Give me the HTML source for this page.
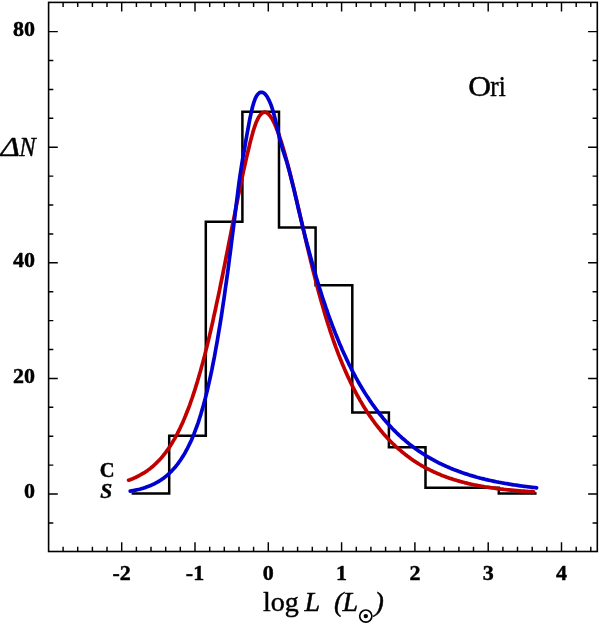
<!DOCTYPE html>
<html lang="en">
<head>
<meta charset="utf-8">
<title>Ori luminosity function</title>
<style>
html,body{margin:0;padding:0;background:#fff;}
body{width:600px;height:624px;overflow:hidden;}
svg{display:block;filter:blur(0.5px);}
text{font-family:"Liberation Serif","Times New Roman",serif;fill:#000;stroke:#000;stroke-width:0.45px;stroke-linejoin:round;}
.num text{font-size:22px;font-weight:bold;stroke-width:0.45px;}
</style>
</head>
<body>
<svg width="600" height="624" viewBox="0 0 600 624">
<rect x="0" y="0" width="600" height="624" fill="#fff"/>
<rect x="48.6" y="2.4" width="548.7" height="549.1" fill="none" stroke="#000" stroke-width="1.6"/>
<path d="M63.1,551.5 V546.8 M63.1,2.4 V7.1 M77.7,551.5 V546.8 M77.7,2.4 V7.1 M92.4,551.5 V546.8 M92.4,2.4 V7.1 M107.0,551.5 V546.8 M107.0,2.4 V7.1 M121.7,551.5 V542.3 M121.7,2.4 V11.6 M136.4,551.5 V546.8 M136.4,2.4 V7.1 M151.0,551.5 V546.8 M151.0,2.4 V7.1 M165.7,551.5 V546.8 M165.7,2.4 V7.1 M180.3,551.5 V546.8 M180.3,2.4 V7.1 M195.0,551.5 V542.3 M195.0,2.4 V11.6 M209.7,551.5 V546.8 M209.7,2.4 V7.1 M224.3,551.5 V546.8 M224.3,2.4 V7.1 M239.0,551.5 V546.8 M239.0,2.4 V7.1 M253.6,551.5 V546.8 M253.6,2.4 V7.1 M268.3,551.5 V542.3 M268.3,2.4 V11.6 M283.0,551.5 V546.8 M283.0,2.4 V7.1 M297.6,551.5 V546.8 M297.6,2.4 V7.1 M312.3,551.5 V546.8 M312.3,2.4 V7.1 M326.9,551.5 V546.8 M326.9,2.4 V7.1 M341.6,551.5 V542.3 M341.6,2.4 V11.6 M356.3,551.5 V546.8 M356.3,2.4 V7.1 M370.9,551.5 V546.8 M370.9,2.4 V7.1 M385.6,551.5 V546.8 M385.6,2.4 V7.1 M400.2,551.5 V546.8 M400.2,2.4 V7.1 M414.9,551.5 V542.3 M414.9,2.4 V11.6 M429.6,551.5 V546.8 M429.6,2.4 V7.1 M444.2,551.5 V546.8 M444.2,2.4 V7.1 M458.9,551.5 V546.8 M458.9,2.4 V7.1 M473.5,551.5 V546.8 M473.5,2.4 V7.1 M488.2,551.5 V542.3 M488.2,2.4 V11.6 M502.9,551.5 V546.8 M502.9,2.4 V7.1 M517.5,551.5 V546.8 M517.5,2.4 V7.1 M532.2,551.5 V546.8 M532.2,2.4 V7.1 M546.8,551.5 V546.8 M546.8,2.4 V7.1 M561.5,551.5 V542.3 M561.5,2.4 V11.6 M576.2,551.5 V546.8 M576.2,2.4 V7.1 M590.8,551.5 V546.8 M590.8,2.4 V7.1 M48.6,522.9 H53.3 M597.3,522.9 H592.6 M48.6,494.0 H57.8 M597.3,494.0 H588.1 M48.6,465.1 H53.3 M597.3,465.1 H592.6 M48.6,436.2 H53.3 M597.3,436.2 H592.6 M48.6,407.3 H53.3 M597.3,407.3 H592.6 M48.6,378.4 H57.8 M597.3,378.4 H588.1 M48.6,349.5 H53.3 M597.3,349.5 H592.6 M48.6,320.6 H53.3 M597.3,320.6 H592.6 M48.6,291.7 H53.3 M597.3,291.7 H592.6 M48.6,262.8 H57.8 M597.3,262.8 H588.1 M48.6,233.9 H53.3 M597.3,233.9 H592.6 M48.6,205.0 H53.3 M597.3,205.0 H592.6 M48.6,176.1 H53.3 M597.3,176.1 H592.6 M48.6,147.2 H57.8 M597.3,147.2 H588.1 M48.6,118.3 H53.3 M597.3,118.3 H592.6 M48.6,89.4 H53.3 M597.3,89.4 H592.6 M48.6,60.5 H53.3 M597.3,60.5 H592.6 M48.6,31.6 H57.8 M597.3,31.6 H588.1" fill="none" stroke="#000" stroke-width="1.45"/>
<path d="M131.6,493.6 L169.2,493.6 L169.2,435.8 L205.8,435.8 L205.8,221.7 L242.4,221.7 L242.4,111.8 L279.0,111.8 L279.0,227.5 L315.6,227.5 L315.6,285.3 L352.3,285.3 L352.3,412.6 L388.9,412.6 L388.9,447.3 L425.5,447.3 L425.5,487.8 L462.1,487.8 L462.1,487.8 L498.8,487.8 L498.8,493.6 L536.6,493.6" fill="none" stroke="#000" stroke-width="2.5" stroke-linejoin="miter" stroke-linecap="butt"/>
<path d="M128.6,480.2 L130.0,479.7 L131.3,479.2 L132.7,478.7 L134.0,478.1 L135.4,477.5 L136.7,476.8 L138.1,476.2 L139.4,475.5 L140.8,474.7 L142.1,473.9 L143.5,473.1 L144.9,472.3 L146.2,471.4 L147.6,470.4 L148.9,469.4 L150.3,468.4 L151.6,467.3 L153.0,466.2 L154.3,465.0 L155.7,463.7 L157.0,462.4 L158.4,461.0 L159.8,459.6 L161.1,458.1 L162.5,456.5 L163.8,454.8 L165.2,453.1 L166.5,451.3 L167.9,449.4 L169.2,447.4 L170.6,445.4 L171.9,443.2 L173.3,440.9 L174.7,438.6 L176.0,436.1 L177.4,433.6 L178.7,430.9 L180.1,428.1 L181.4,425.2 L182.8,422.2 L184.1,419.1 L185.5,415.8 L186.8,412.5 L188.2,409.0 L189.6,405.3 L190.9,401.5 L192.3,397.6 L193.6,393.6 L195.0,389.4 L196.3,385.1 L197.7,380.6 L199.0,376.0 L200.4,371.3 L201.7,366.4 L203.1,361.4 L204.5,356.2 L205.8,350.9 L207.2,345.4 L208.5,339.8 L209.9,334.1 L211.2,328.3 L212.6,322.3 L213.9,316.2 L215.3,310.0 L216.6,303.7 L218.0,297.3 L219.4,290.8 L220.7,284.2 L222.1,277.5 L223.4,270.8 L224.8,264.0 L226.1,257.2 L227.5,250.4 L228.8,243.5 L230.2,236.6 L231.5,229.8 L232.9,222.9 L234.3,216.1 L235.6,209.3 L237.0,202.6 L238.3,195.9 L239.7,189.3 L241.0,182.8 L242.4,176.4 L243.7,170.2 L245.1,164.0 L246.4,158.0 L247.8,152.2 L249.2,146.5 L250.5,141.0 L251.9,135.9 L253.2,131.1 L254.6,126.8 L255.9,123.1 L257.3,119.9 L258.6,117.3 L260.0,115.2 L261.3,113.7 L262.7,112.7 L264.1,112.2 L265.4,112.2 L266.8,112.7 L268.1,113.7 L269.5,115.1 L270.8,116.9 L272.2,119.1 L273.5,121.6 L274.9,124.5 L276.2,127.7 L277.6,131.2 L279.0,135.0 L280.3,139.0 L281.7,143.2 L283.0,147.6 L284.4,152.2 L285.7,157.0 L287.1,161.9 L288.4,167.0 L289.8,172.2 L291.1,177.5 L292.5,183.0 L293.9,188.6 L295.2,194.3 L296.6,200.0 L297.9,205.8 L299.3,211.7 L300.6,217.6 L302.0,223.6 L303.3,229.5 L304.7,235.4 L306.0,241.2 L307.4,247.0 L308.8,252.8 L310.1,258.4 L311.5,264.0 L312.8,269.5 L314.2,274.8 L315.5,280.1 L316.9,285.3 L318.2,290.4 L319.6,295.4 L320.9,300.3 L322.3,305.1 L323.7,309.8 L325.0,314.4 L326.4,318.9 L327.7,323.2 L329.1,327.5 L330.4,331.6 L331.8,335.7 L333.1,339.6 L334.5,343.5 L335.8,347.2 L337.2,350.9 L338.5,354.4 L339.9,357.9 L341.3,361.3 L342.6,364.6 L344.0,367.8 L345.3,370.9 L346.7,373.9 L348.0,376.9 L349.4,379.8 L350.7,382.6 L352.1,385.4 L353.4,388.1 L354.8,390.7 L356.2,393.3 L357.5,395.8 L358.9,398.2 L360.2,400.6 L361.6,402.9 L362.9,405.2 L364.3,407.4 L365.6,409.6 L367.0,411.7 L368.3,413.7 L369.7,415.8 L371.1,417.7 L372.4,419.6 L373.8,421.5 L375.1,423.3 L376.5,425.1 L377.8,426.8 L379.2,428.5 L380.5,430.2 L381.9,431.8 L383.2,433.4 L384.6,435.0 L386.0,436.5 L387.3,437.9 L388.7,439.4 L390.0,440.8 L391.4,442.2 L392.7,443.5 L394.1,444.8 L395.4,446.1 L396.8,447.3 L398.1,448.5 L399.5,449.7 L400.9,450.9 L402.2,452.0 L403.6,453.1 L404.9,454.2 L406.3,455.3 L407.6,456.3 L409.0,457.3 L410.3,458.3 L411.7,459.2 L413.0,460.2 L414.4,461.1 L415.8,462.0 L417.1,462.8 L418.5,463.7 L419.8,464.5 L421.2,465.3 L422.5,466.1 L423.9,466.8 L425.2,467.6 L426.6,468.3 L427.9,469.0 L429.3,469.7 L430.7,470.4 L432.0,471.0 L433.4,471.7 L434.7,472.3 L436.1,472.9 L437.4,473.5 L438.8,474.1 L440.1,474.6 L441.5,475.2 L442.8,475.7 L444.2,476.2 L445.6,476.7 L446.9,477.2 L448.3,477.7 L449.6,478.2 L451.0,478.6 L452.3,479.1 L453.7,479.5 L455.0,479.9 L456.4,480.3 L457.7,480.7 L459.1,481.1 L460.5,481.5 L461.8,481.9 L463.2,482.2 L464.5,482.6 L465.9,482.9 L467.2,483.2 L468.6,483.6 L469.9,483.9 L471.3,484.2 L472.6,484.5 L474.0,484.8 L475.4,485.0 L476.7,485.3 L478.1,485.6 L479.4,485.8 L480.8,486.1 L482.1,486.3 L483.5,486.5 L484.8,486.8 L486.2,487.0 L487.5,487.2 L488.9,487.4 L490.3,487.6 L491.6,487.8 L493.0,488.0 L494.3,488.2 L495.7,488.4 L497.0,488.6 L498.4,488.7 L499.7,488.9 L501.1,489.1 L502.4,489.2 L503.8,489.4 L505.2,489.5 L506.5,489.7 L507.9,489.8 L509.2,489.9 L510.6,490.1 L511.9,490.2 L513.3,490.3 L514.6,490.4 L516.0,490.6 L517.3,490.7 L518.7,490.8 L520.1,490.9 L521.4,491.0 L522.8,491.1 L524.1,491.2 L525.5,491.3 L526.8,491.4 L528.2,491.5 L529.5,491.5 L530.9,491.6 L532.2,491.7 L533.6,491.8" fill="none" stroke="#c00000" stroke-width="3.7" stroke-linecap="round" stroke-linejoin="round"/>
<path d="M130.2,491.1 L131.6,490.9 L132.9,490.7 L134.3,490.4 L135.6,490.1 L137.0,489.8 L138.4,489.5 L139.7,489.2 L141.1,488.8 L142.4,488.4 L143.8,488.0 L145.2,487.6 L146.5,487.1 L147.9,486.6 L149.2,486.1 L150.6,485.5 L151.9,484.9 L153.3,484.3 L154.7,483.6 L156.0,482.9 L157.4,482.2 L158.7,481.4 L160.1,480.5 L161.5,479.6 L162.8,478.7 L164.2,477.7 L165.5,476.6 L166.9,475.5 L168.3,474.3 L169.6,473.0 L171.0,471.7 L172.3,470.3 L173.7,468.8 L175.1,467.3 L176.4,465.6 L177.8,463.9 L179.1,462.0 L180.5,460.1 L181.8,458.0 L183.2,455.9 L184.6,453.6 L185.9,451.2 L187.3,448.6 L188.6,446.0 L190.0,443.1 L191.4,440.2 L192.7,437.0 L194.1,433.7 L195.4,430.2 L196.8,426.5 L198.2,422.6 L199.5,418.5 L200.9,414.1 L202.2,409.5 L203.6,404.7 L205.0,399.6 L206.3,394.3 L207.7,388.7 L209.0,382.8 L210.4,376.6 L211.8,370.2 L213.1,363.4 L214.5,356.4 L215.8,349.0 L217.2,341.4 L218.5,333.4 L219.9,325.1 L221.3,316.6 L222.6,307.7 L224.0,298.5 L225.3,289.1 L226.7,279.3 L228.1,269.3 L229.4,259.1 L230.8,248.6 L232.1,237.9 L233.5,227.0 L234.9,216.0 L236.2,204.9 L237.6,194.1 L238.9,183.6 L240.3,173.7 L241.7,164.7 L243.0,156.9 L244.4,149.6 L245.7,141.6 L247.1,133.7 L248.5,126.2 L249.8,119.1 L251.2,112.6 L252.5,107.0 L253.9,102.3 L255.2,98.6 L256.6,95.9 L258.0,94.0 L259.3,92.8 L260.7,92.3 L262.0,92.3 L263.4,92.8 L264.8,93.8 L266.1,95.3 L267.5,97.3 L268.8,99.8 L270.2,102.9 L271.6,106.5 L272.9,110.8 L274.3,115.6 L275.6,121.0 L277.0,126.9 L278.4,133.1 L279.7,138.9 L281.1,144.1 L282.4,148.6 L283.8,152.8 L285.1,156.9 L286.5,161.3 L287.9,166.0 L289.2,170.9 L290.6,176.2 L291.9,181.6 L293.3,187.1 L294.7,192.8 L296.0,198.6 L297.4,204.4 L298.7,210.1 L300.1,215.9 L301.5,221.6 L302.8,227.1 L304.2,232.6 L305.5,238.0 L306.9,243.3 L308.3,248.5 L309.6,253.6 L311.0,258.6 L312.3,263.5 L313.7,268.4 L315.1,273.1 L316.4,277.7 L317.8,282.2 L319.1,286.7 L320.5,291.1 L321.8,295.3 L323.2,299.5 L324.6,303.6 L325.9,307.6 L327.3,311.5 L328.6,315.4 L330.0,319.1 L331.4,322.8 L332.7,326.4 L334.1,330.0 L335.4,333.4 L336.8,336.8 L338.2,340.1 L339.5,343.4 L340.9,346.5 L342.2,349.7 L343.6,352.7 L345.0,355.7 L346.3,358.6 L347.7,361.5 L349.0,364.3 L350.4,367.0 L351.7,369.7 L353.1,372.3 L354.5,374.9 L355.8,377.4 L357.2,379.9 L358.5,382.3 L359.9,384.7 L361.3,387.0 L362.6,389.2 L364.0,391.5 L365.3,393.6 L366.7,395.8 L368.1,397.8 L369.4,399.9 L370.8,401.9 L372.1,403.8 L373.5,405.7 L374.9,407.6 L376.2,409.4 L377.6,411.2 L378.9,413.0 L380.3,414.7 L381.7,416.4 L383.0,418.1 L384.4,419.7 L385.7,421.3 L387.1,422.8 L388.4,424.3 L389.8,425.8 L391.2,427.3 L392.5,428.7 L393.9,430.1 L395.2,431.4 L396.6,432.8 L398.0,434.1 L399.3,435.4 L400.7,436.6 L402.0,437.8 L403.4,439.0 L404.8,440.2 L406.1,441.4 L407.5,442.5 L408.8,443.6 L410.2,444.7 L411.6,445.7 L412.9,446.8 L414.3,447.8 L415.6,448.8 L417.0,449.8 L418.3,450.7 L419.7,451.6 L421.1,452.5 L422.4,453.4 L423.8,454.3 L425.1,455.2 L426.5,456.0 L427.9,456.8 L429.2,457.6 L430.6,458.4 L431.9,459.2 L433.3,459.9 L434.7,460.7 L436.0,461.4 L437.4,462.1 L438.7,462.8 L440.1,463.5 L441.5,464.1 L442.8,464.8 L444.2,465.4 L445.5,466.0 L446.9,466.6 L448.3,467.2 L449.6,467.8 L451.0,468.4 L452.3,468.9 L453.7,469.5 L455.0,470.0 L456.4,470.5 L457.8,471.0 L459.1,471.5 L460.5,472.0 L461.8,472.5 L463.2,473.0 L464.6,473.4 L465.9,473.9 L467.3,474.3 L468.6,474.8 L470.0,475.2 L471.4,475.6 L472.7,476.0 L474.1,476.4 L475.4,476.8 L476.8,477.2 L478.2,477.5 L479.5,477.9 L480.9,478.3 L482.2,478.6 L483.6,478.9 L485.0,479.3 L486.3,479.6 L487.7,479.9 L489.0,480.2 L490.4,480.5 L491.7,480.8 L493.1,481.1 L494.5,481.4 L495.8,481.7 L497.2,482.0 L498.5,482.2 L499.9,482.5 L501.3,482.7 L502.6,483.0 L504.0,483.2 L505.3,483.5 L506.7,483.7 L508.1,483.9 L509.4,484.2 L510.8,484.4 L512.1,484.6 L513.5,484.8 L514.9,485.0 L516.2,485.2 L517.6,485.4 L518.9,485.6 L520.3,485.8 L521.6,486.0 L523.0,486.2 L524.4,486.3 L525.7,486.5 L527.1,486.7 L528.4,486.8 L529.8,487.0 L531.2,487.2 L532.5,487.3 L533.9,487.5 L535.2,487.6 L536.6,487.8" fill="none" stroke="#0000d0" stroke-width="3.7" stroke-linecap="round" stroke-linejoin="round"/>
<g class="num"><text x="121.7" y="579.6" text-anchor="middle">-2</text><text x="195.0" y="579.6" text-anchor="middle">-1</text><text x="268.3" y="579.6" text-anchor="middle">0</text><text x="341.6" y="579.6" text-anchor="middle">1</text><text x="414.9" y="579.6" text-anchor="middle">2</text><text x="488.2" y="579.6" text-anchor="middle">3</text><text x="561.5" y="579.6" text-anchor="middle">4</text><text x="35" y="498.3" text-anchor="end">0</text><text x="35" y="382.7" text-anchor="end">20</text><text x="35" y="267.1" text-anchor="end">40</text><text x="35" y="35.9" text-anchor="end">80</text></g>
<text transform="translate(0.5,155.8) scale(1.18,1)" font-size="28" font-style="italic" stroke-width="1.2">Δ</text>
<text transform="translate(19.2,155.8) scale(0.88,1)" font-size="28" font-style="italic" stroke-width="1.2">N</text>
<text transform="translate(468.3,95.6) scale(1.05,1)" font-size="30" stroke-width="1.2">O</text>
<text transform="translate(490.3,95.6) scale(0.84,1)" font-size="30" stroke-width="1.3">ri</text>
<text x="99.8" y="476.8" font-size="20.5" font-weight="bold" stroke-width="0.2">C</text>
<text x="100.2" y="498.3" font-size="21.5" font-style="italic" font-weight="bold" stroke-width="0">S</text>
<text x="263" y="611" font-size="28" stroke-width="1.0">log</text>
<text x="304.6" y="611" font-size="28" font-style="italic" stroke-width="1.2">L</text>
<text x="334" y="611" font-size="28" font-style="italic" stroke-width="1.0">(</text>
<text x="342.4" y="611" font-size="28" font-style="italic" stroke-width="1.2">L</text>
<circle cx="365.8" cy="616.1" r="6.1" fill="none" stroke="#000" stroke-width="1.7"/>
<circle cx="365.8" cy="616.1" r="2.2" fill="#000"/>
<text x="374.4" y="611" font-size="28" font-style="italic" stroke-width="1.0">)</text>
</svg>
</body>
</html>
